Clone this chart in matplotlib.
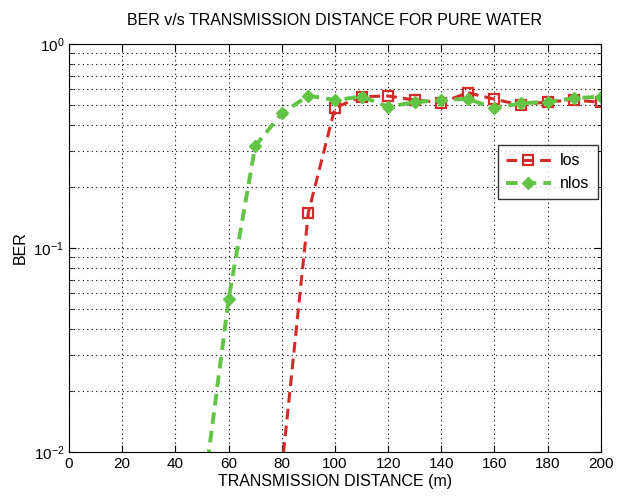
import matplotlib
matplotlib.use("Agg")
import matplotlib.pyplot as plt
from matplotlib.ticker import LogLocator, NullFormatter

plt.rcParams['font.family'] = ['Liberation Sans', 'DejaVu Sans']
plt.rcParams['mathtext.fontset'] = 'custom'
plt.rcParams['mathtext.rm'] = 'Liberation Sans'

# distances (m)
los_x = [80, 90, 100, 110, 120, 130, 140, 150, 160, 170, 180, 190, 200]
los_ber = [0.0082, 0.149, 0.487, 0.552, 0.556, 0.531, 0.516, 0.577, 0.536, 0.502, 0.521, 0.531, 0.518]

nlos_x = [50, 60, 70, 80, 90, 100, 110, 120, 130, 140, 150, 160, 170, 180, 190, 200]
nlos_ber = [0.0055, 0.056, 0.316, 0.457, 0.558, 0.531, 0.552, 0.493, 0.518, 0.531, 0.538, 0.484, 0.512,
            0.521, 0.542, 0.552]

x_ticks = list(range(0, 201, 20))

fig = plt.figure(figsize=(6.22, 4.97), dpi=100)
ax = fig.add_axes([0.111, 0.0905, 0.855, 0.821])

ax.plot(los_x, los_ber, linestyle="--", color="#d42a2a", linewidth=2.2, marker="s",
        markersize=7, markerfacecolor="none", markeredgecolor="#d42a2a", markeredgewidth=1.6,
        label="los", dashes=(3.5, 2))
ax.plot(nlos_x, nlos_ber, linestyle="--", color="#62c444", linewidth=2.8, marker="D",
        markersize=6, markerfacecolor="#62c444", markeredgecolor="#62c444",
        label="nlos", dashes=(3, 1.8))

ax.set_yscale("log")
ax.set_xlim(0, 200)
ax.set_ylim(1e-2, 1)
ax.set_xticks(x_ticks)
ax.yaxis.set_major_locator(LogLocator(base=10, numticks=5))
ax.yaxis.set_minor_locator(LogLocator(base=10, subs=range(2, 10), numticks=20))
ax.yaxis.set_minor_formatter(NullFormatter())

grid_style = dict(linestyle=(0, (1, 3)), color="black", linewidth=0.8)
ax.grid(True, which="major", **grid_style)
ax.grid(True, which="minor", axis="y", **grid_style)
ax.tick_params(which="both", direction="in", top=True, right=True, labelsize=11)
ax.tick_params(which="major", length=5)
ax.tick_params(which="minor", length=3)

ax.set_title("BER v/s TRANSMISSION DISTANCE FOR PURE WATER", fontsize=11.5, pad=14)
ax.set_xlabel("TRANSMISSION DISTANCE (m)", fontsize=11.5, labelpad=2)
ax.set_ylabel("BER", fontsize=11.5)

leg = ax.legend(loc="upper right", bbox_to_anchor=(0.994, 0.752), borderaxespad=0,
                fontsize=11.5, frameon=True, fancybox=False, edgecolor="black",
                handlelength=2.8, borderpad=0.5, handletextpad=0.6)
leg.get_frame().set_linewidth(1.0)

plt.savefig("out.png", dpi=100)
plt.close()
